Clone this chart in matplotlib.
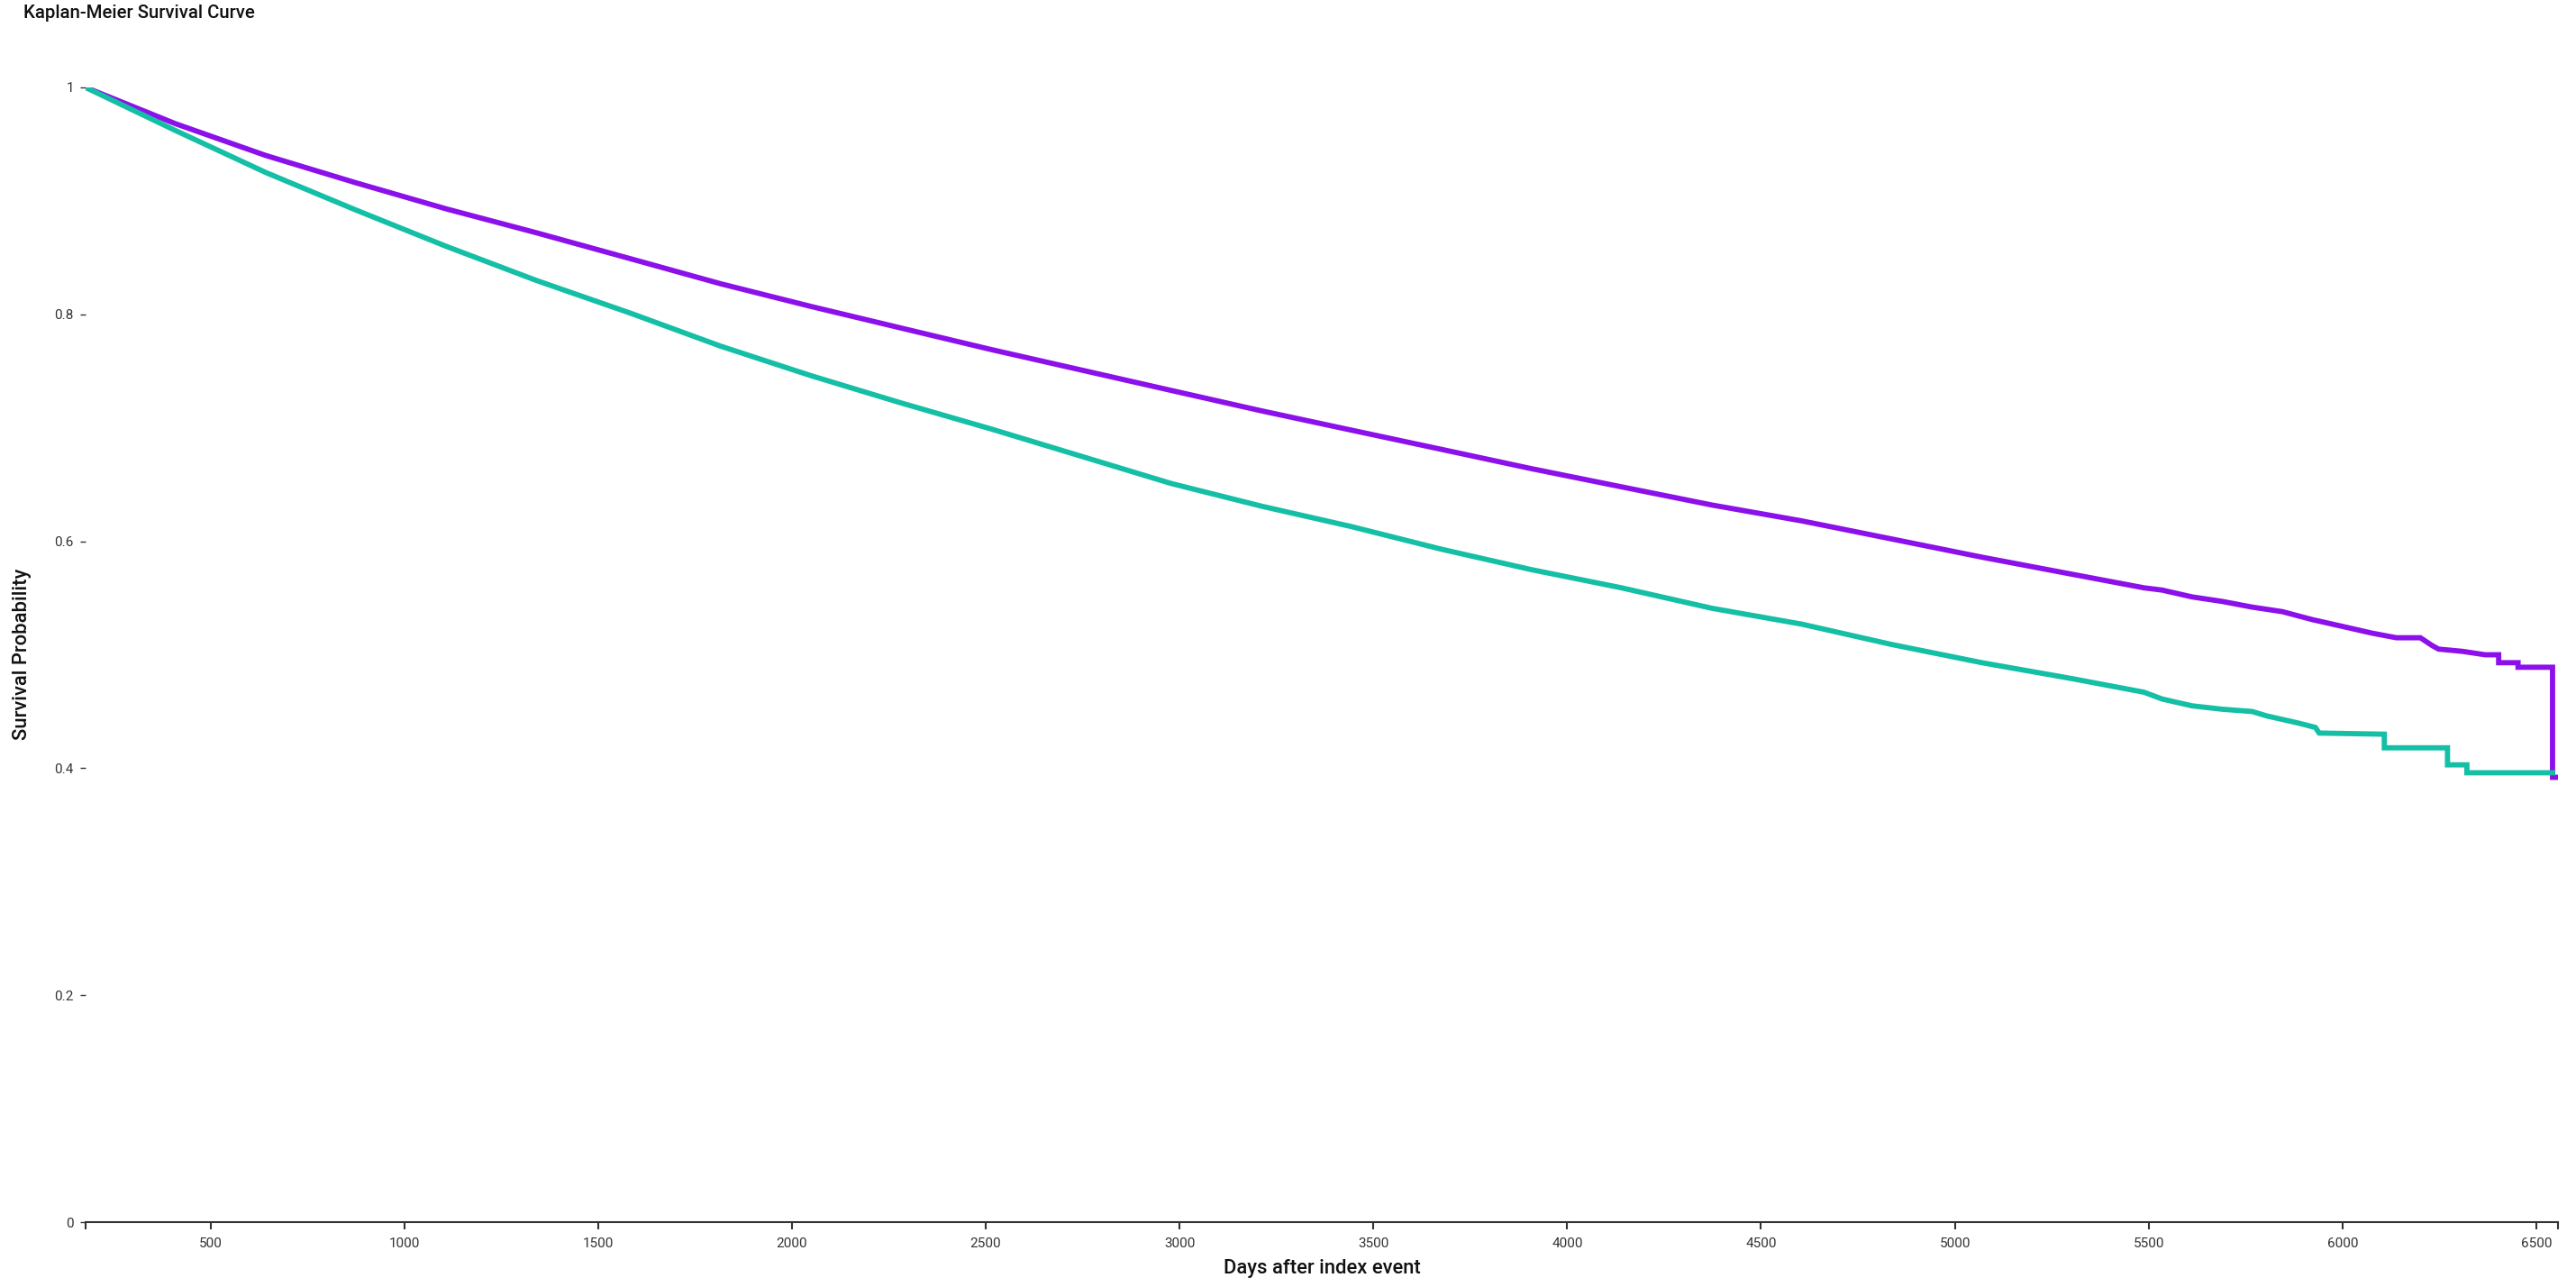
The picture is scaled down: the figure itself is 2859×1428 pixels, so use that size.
import matplotlib
matplotlib.use("Agg")
import matplotlib.pyplot as plt

# survival data (days after index event, survival probability)
days_a = [178, 410, 643, 875, 1108, 1340, 1584, 1816, 2049, 2281, 2514, 2746, 2978,
          3211, 3443, 3676, 3908, 4140, 4373, 4605, 4838, 5070, 5302, 5488, 5535,
          5612, 5690, 5767, 5845, 5922, 6000, 6077, 6139, 6201, 6232, 6248, 6310,
          6368, 6403, 6403, 6453, 6453, 6542, 6542, 6550]
surv_a = [1.0, 0.968, 0.940, 0.916, 0.893, 0.872, 0.849, 0.827, 0.807, 0.788, 0.769,
          0.751, 0.733, 0.715, 0.698, 0.681, 0.664, 0.648, 0.632, 0.618, 0.602, 0.586,
          0.571, 0.559, 0.557, 0.551, 0.547, 0.542, 0.538, 0.531, 0.525, 0.519, 0.515,
          0.515, 0.508, 0.505, 0.503, 0.500, 0.500, 0.493, 0.493, 0.489, 0.489, 0.392,
          0.392]

days_b = [178, 410, 643, 875, 1108, 1340, 1584, 1816, 2049, 2281, 2514, 2746, 2978,
          3211, 3443, 3676, 3908, 4140, 4373, 4605, 4838, 5070, 5302, 5488, 5535,
          5612, 5690, 5767, 5806, 5884, 5930, 5940, 6108, 6108, 6271, 6271, 6321,
          6321, 6542]
surv_b = [1.0, 0.962, 0.925, 0.892, 0.860, 0.830, 0.801, 0.772, 0.746, 0.722, 0.699,
          0.675, 0.651, 0.631, 0.613, 0.593, 0.575, 0.559, 0.541, 0.527, 0.509, 0.493,
          0.479, 0.467, 0.461, 0.455, 0.452, 0.450, 0.446, 0.440, 0.436, 0.431, 0.430,
          0.418, 0.418, 0.403, 0.403, 0.396, 0.396]

x_ticks = [500, 1000, 1500, 2000, 2500, 3000, 3500, 4000, 4500, 5000, 5500, 6000, 6500]
y_ticks = [0, 0.2, 0.4, 0.6, 0.8, 1]
y_labels = ["0", "0.2", "0.4", "0.6", "0.8", "1"]
x_min, x_max = 178, 6556

purple = "#8b10ea"
teal = "#14bfa6"
text_col = "#333333"

W, H = 2859, 1428
fig = plt.figure(figsize=(W / 100, H / 100), dpi=100)
ax = fig.add_axes([95 / W, 1 - 1356 / H, (2839 - 95) / W, (1356 - 97) / H])

ax.plot(days_a, surv_a, color=purple, lw=4.2, solid_joinstyle="miter", zorder=2)
ax.plot(days_b, surv_b, color=teal, lw=4.2, solid_joinstyle="miter", zorder=3)

ax.set_xlim(x_min, x_max)
ax.set_ylim(0, 1)

for s in ["top", "right", "left"]:
    ax.spines[s].set_visible(False)
ax.spines["bottom"].set_color(text_col)
ax.spines["bottom"].set_linewidth(1.5)

# outer ticks at both ends of the domain, like a d3 axis
ax.set_xticks([x_min] + x_ticks + [x_max])
ax.set_xticklabels([""] + [str(t) for t in x_ticks] + [""])
ax.set_yticks(y_ticks)
ax.set_yticklabels(y_labels)

ax.tick_params(axis="x", length=6, width=1.5, color=text_col, pad=6,
               labelsize=11, labelcolor=text_col)
ax.tick_params(axis="y", length=4.5, width=1.0, color=text_col, pad=5,
               labelsize=11, labelcolor=text_col)
for lab in ax.get_xticklabels() + ax.get_yticklabels():
    lab.set_fontfamily("Roboto")

fig.text(26 / W, 1 - 15 / H, "Kaplan-Meier Survival Curve", ha="left", va="center",
         fontsize=14.7, fontfamily="Roboto", fontweight="medium", color="#111111")
fig.text(25 / W, 1 - 726 / H, "Survival Probability", ha="center", va="center",
         rotation=90, fontsize=15.8, fontfamily="Roboto", fontweight="medium", color="#111111")
fig.text(1467 / W, 1 - 1408 / H, "Days after index event", ha="center", va="center",
         fontsize=15.8, fontfamily="Roboto", fontweight="medium", color="#111111")

fig.savefig("out.png", dpi=100, facecolor="white")
